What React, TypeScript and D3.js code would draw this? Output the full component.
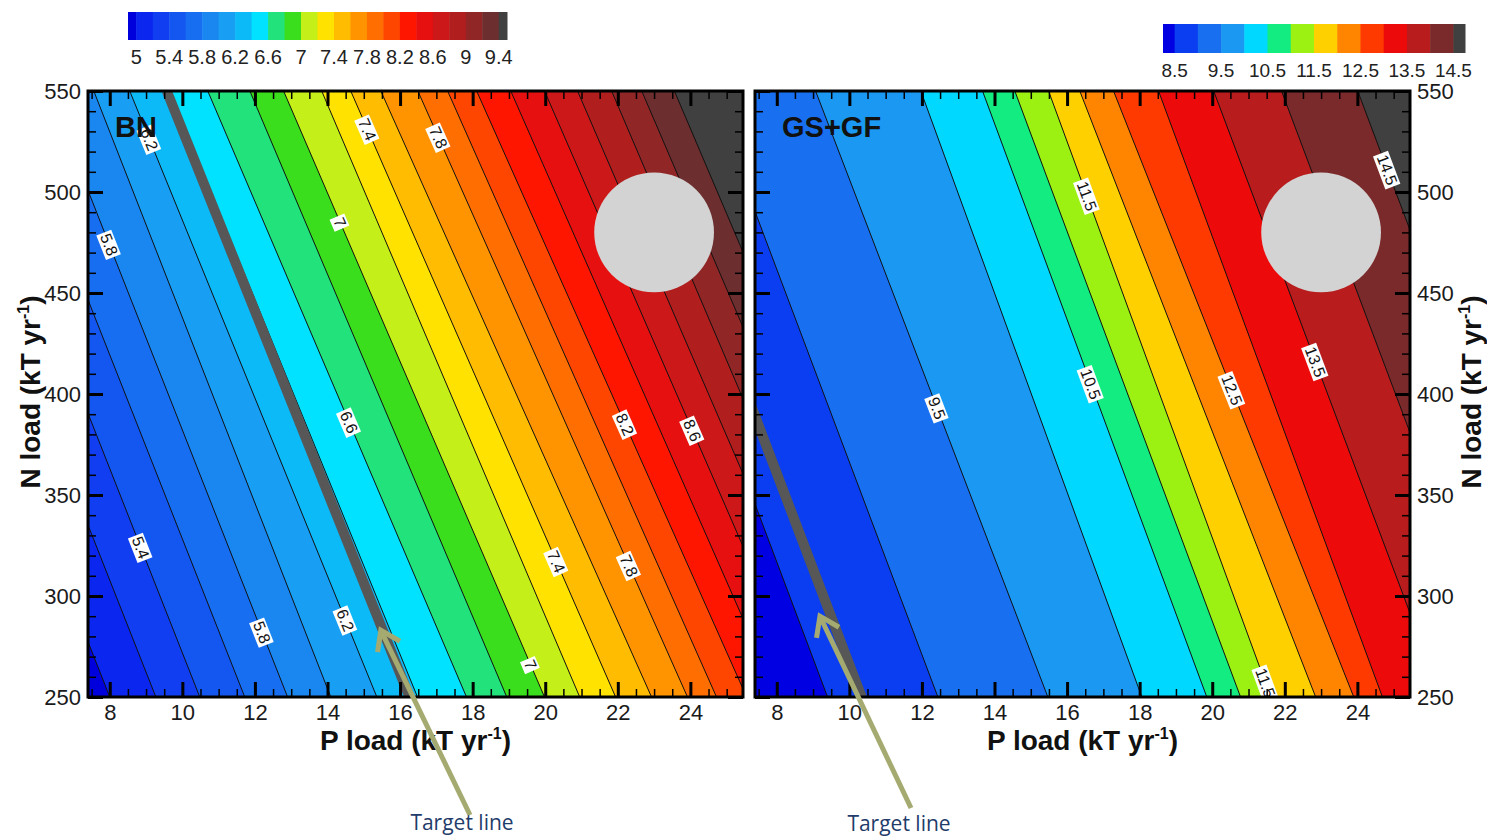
import React, { useEffect, useRef } from 'react'
import * as d3 from 'd3'

const W = 1487
const H = 838
const FONT = '"Liberation Sans", Arial, Helvetica, sans-serif'

// shared axes
const pDomain = [7.4, 25.45]
const nDomain = [250, 550]
const pTicks = [8, 10, 12, 14, 16, 18, 20, 22, 24]
const nTicks = [250, 300, 350, 400, 450, 500, 550]

// ---- BN panel ----
const bnLevels = [5.0, 5.2, 5.4, 5.6, 5.8, 6.0, 6.2, 6.4, 6.6, 6.8, 7.0, 7.2, 7.4, 7.6, 7.8, 8.0, 8.2, 8.4, 8.6, 8.8, 9.0, 9.2, 9.4]
// P load where each contour line meets N = 250 and N = 550
const bnPAtN250 = [8.0, 9.27, 10.48, 11.72, 12.9, 14.09, 15.36, 16.48, 17.83, 18.94, 19.98, 20.95, 21.94, 22.93, 23.92, 24.72, 25.55, 26.4, 27.26, 28.11, 28.96, 29.82, 30.67]
const bnPAtN550 = [1.42, 2.68, 3.9, 5.13, 6.32, 7.56, 8.55, 9.65, 10.7, 11.86, 12.79, 13.84, 14.64, 15.47, 16.49, 17.31, 18.11, 19.05, 19.98, 20.89, 21.83, 22.66, 23.56]
const bnColors = ['#0000dc', '#0a26ef', '#103ef0', '#1456f0', '#186ef0', '#1a86f0', '#189ef2', '#0cbaf8', '#00e2ff', '#22e27c', '#3ade1c', '#c4ef18', '#ffe200', '#ffbc00', '#ff9400', '#ff6e00', '#ff4600', '#ff1600', '#e61010', '#cc1818', '#b01e1e', '#902626', '#6c2e2e', '#404040']
const bnBarLabels = [5, 5.4, 5.8, 6.2, 6.6, 7, 7.4, 7.8, 8.2, 8.6, 9, 9.4]
const bnLabelLevels = [6.2, 5.8, 7.4, 7.8, 7.0, 6.6, 8.2, 8.6, 5.4, 5.8, 6.2, 7.0, 7.4, 7.8]
const bnLabelN = [526, 474, 531, 527, 485, 386, 385, 382, 324, 282, 288, 266, 317, 315]
const bnTargetP = [16.26, 9.57] // at N = 250 and N = 550

// ---- GS+GF panel ----
const gsLevels = [8.5, 9.0, 9.5, 10.0, 10.5, 11.0, 11.5, 12.0, 12.5, 13.0, 13.5, 14.0, 14.5]
const gsPAtN250 = [9.4, 12.44, 15.47, 18.06, 19.85, 20.78, 21.61, 22.85, 23.9, 24.69, 26.32, 28.19, 30.29]
const gsPAtN550 = [3.12, 6.15, 9.07, 11.97, 13.67, 14.56, 15.49, 16.35, 17.28, 18.52, 20.04, 21.91, 24.01]
const gsColors = ['#0000e2', '#0a3ef0', '#1870f0', '#1a98f2', '#00d8ff', '#12ec80', '#9cf012', '#ffd000', '#ff8400', '#ff3a00', '#ec0a0a', '#b81c1c', '#7a2a2a', '#404040']
const gsBarLabels = [8.5, 9.5, 10.5, 11.5, 12.5, 13.5, 14.5]
const gsLabelLevels = [11.5, 14.5, 9.5, 10.5, 12.5, 13.5, 11.5]
const gsLabelN = [498, 511, 393, 405, 402, 416, 257]
const gsTargetP = [10.34, 4.0]

// grey disc drawn in both panels
const discP = 23
const discN = 480
const discR = 1.65 // radius in P units

// "Target line" call-outs
const noteTipP = [15.47, 9.19]
const noteTipN = [283, 290]

// layout
const PLOT_TOP = 91
const PLOT_BOTTOM = 697
const PLOT_W = 655

function drawPanel(svg, o) {
  const x = d3.scaleLinear().domain(pDomain).range([o.left, o.left + PLOT_W])
  const y = d3.scaleLinear().domain(nDomain).range([PLOT_BOTTOM, PLOT_TOP])
  const [n0, n1] = nDomain

  const clipId = 'clip-' + o.id
  svg.append('defs').append('clipPath').attr('id', clipId)
    .append('rect')
    .attr('x', o.left).attr('y', PLOT_TOP)
    .attr('width', PLOT_W).attr('height', PLOT_BOTTOM - PLOT_TOP)

  const field = svg.append('g').attr('clip-path', `url(#${clipId})`)

  // lowest band fills everything, then each level paints the region to its right
  field.append('rect')
    .attr('x', o.left).attr('y', PLOT_TOP)
    .attr('width', PLOT_W).attr('height', PLOT_BOTTOM - PLOT_TOP)
    .attr('fill', o.colors[0])
  const far = o.left + PLOT_W + 2000
  o.levels.forEach((lv, i) => {
    const pts = [[x(o.p250[i]), y(n0)], [x(o.p550[i]), y(n1)], [far, y(n1)], [far, y(n0)]]
    field.append('polygon')
      .attr('points', pts.map(p => p.join(',')).join(' '))
      .attr('fill', o.colors[i + 1])
  })

  // contour lines
  field.selectAll('line.contour').data(o.levels).enter().append('line')
    .attr('class', 'contour')
    .attr('x1', (d, i) => x(o.p250[i])).attr('y1', y(n0))
    .attr('x2', (d, i) => x(o.p550[i])).attr('y2', y(n1))
    .attr('stroke', '#111').attr('stroke-width', 1)

  // grey disc
  field.append('circle')
    .attr('cx', x(discP)).attr('cy', y(discN))
    .attr('r', x(discP + discR) - x(discP))
    .attr('fill', '#d3d3d3')

  // target line
  field.append('line')
    .attr('x1', x(o.target[0])).attr('y1', y(n0))
    .attr('x2', x(o.target[1])).attr('y2', y(n1))
    .attr('stroke', '#575757').attr('stroke-width', 10)

  // contour labels
  o.labelLevels.forEach((lv, k) => {
    const i = o.levels.indexOf(lv)
    const n = o.labelN[k]
    const t = (n - n0) / (n1 - n0)
    const p = o.p250[i] + (o.p550[i] - o.p250[i]) * t
    const ang = Math.atan2(y(n0) - y(n1), x(o.p250[i]) - x(o.p550[i])) * 180 / Math.PI
    const lg = field.append('g').attr('transform', `translate(${x(p)},${y(n)}) rotate(${ang})`)
    const r = lg.append('rect').attr('fill', '#fff')
    const tx = lg.append('text')
      .text(String(lv))
      .attr('text-anchor', 'middle').attr('dy', '0.36em')
      .attr('font-family', FONT).attr('font-size', 16).attr('fill', '#111')
    const bb = tx.node().getBBox()
    r.attr('x', bb.x - 2).attr('y', bb.y + 1).attr('width', bb.width + 4).attr('height', bb.height - 1)
  })

  // panel title
  svg.append('text')
    .attr('x', o.left + 27).attr('y', 137)
    .attr('font-family', FONT).attr('font-size', 29).attr('font-weight', 'bold')
    .attr('fill', '#111')
    .text(o.title)

  // frame
  svg.append('rect')
    .attr('x', o.left).attr('y', PLOT_TOP)
    .attr('width', PLOT_W).attr('height', PLOT_BOTTOM - PLOT_TOP)
    .attr('fill', 'none').attr('stroke', '#000').attr('stroke-width', 3)

  // inward ticks on all four sides
  const axisG = (gen, tx, ty, size, sw, labels) => {
    const a = svg.append('g')
      .attr('transform', `translate(${tx},${ty})`)
      .call(gen.tickSize(-size).tickPadding(7))
    a.select('.domain').remove()
    a.attr('font-family', FONT).attr('font-size', 22).attr('color', '#1a1a1a')
    a.selectAll('.tick line').attr('stroke', '#000').attr('stroke-width', sw)
    if (!labels) a.selectAll('.tick text').remove()
  }
  const minorP = d3.range(7.5, 25.45, 0.5)
  const minorN = d3.range(260, 550, 10)
  const right = o.left + PLOT_W

  axisG(d3.axisBottom(x).tickValues(pTicks), 0, PLOT_BOTTOM, 15, 3, true)
  axisG(d3.axisBottom(x).tickValues(minorP), 0, PLOT_BOTTOM, 8, 1.5, false)
  axisG(d3.axisTop(x).tickValues(pTicks), 0, PLOT_TOP, 15, 3, false)
  axisG(d3.axisTop(x).tickValues(minorP), 0, PLOT_TOP, 8, 1.5, false)
  axisG(d3.axisLeft(y).tickValues(nTicks), o.left, 0, 15, 3, o.ySide === 'left')
  axisG(d3.axisLeft(y).tickValues(minorN), o.left, 0, 8, 1.5, false)
  axisG(d3.axisRight(y).tickValues(nTicks), right, 0, 15, 3, o.ySide === 'right')
  axisG(d3.axisRight(y).tickValues(minorN), right, 0, 8, 1.5, false)

  // axis titles
  const unit = (sel) => {
    sel.append('tspan').text(sel.attr('data-lead'))
    sel.append('tspan').attr('dy', -11).attr('font-size', 16).text('-1')
    sel.append('tspan').attr('dy', 11).text(')')
  }
  svg.append('text')
    .attr('x', o.left + PLOT_W / 2).attr('y', 750)
    .attr('text-anchor', 'middle')
    .attr('font-family', FONT).attr('font-size', 28).attr('font-weight', 'bold').attr('fill', '#111')
    .attr('data-lead', 'P load (kT yr')
    .call(unit)
  const nx = o.ySide === 'left' ? 40 : 1481
  svg.append('text')
    .attr('transform', `translate(${nx},${(PLOT_TOP + PLOT_BOTTOM) / 2 - 2}) rotate(-90)`)
    .attr('text-anchor', 'middle')
    .attr('font-family', FONT).attr('font-size', 28).attr('font-weight', 'bold').attr('fill', '#111')
    .attr('data-lead', 'N load (kT yr')
    .call(unit)

  return { x, y }
}

function drawColorbar(svg, o) {
  const bounds = [o.lo].concat(o.levels, [o.hi])
  const s = d3.scaleLinear().domain([o.lo, o.hi]).range([o.x0, o.x1])
  svg.append('g').selectAll('rect').data(o.colors).enter().append('rect')
    .attr('x', (d, i) => s(bounds[i]))
    .attr('width', (d, i) => s(bounds[i + 1]) - s(bounds[i]) + 0.5)
    .attr('y', o.y0).attr('height', o.h)
    .attr('fill', d => d)
  svg.append('g').selectAll('text').data(o.labels).enter().append('text')
    .attr('x', d => s(d)).attr('y', o.y0 + o.h + o.gap)
    .attr('text-anchor', 'middle').attr('dy', '0.35em')
    .attr('font-family', FONT).attr('font-size', o.fs).attr('fill', '#222')
    .text(d => String(d))
}

function drawNote(svg, scales, tipP, tipN, tail, textPos) {
  const tip = [scales.x(tipP), scales.y(tipN)]
  const col = '#a5ab70'
  svg.append('line')
    .attr('x1', tail[0]).attr('y1', tail[1]).attr('x2', tip[0]).attr('y2', tip[1])
    .attr('stroke', col).attr('stroke-width', 5)
  const dx = tail[0] - tip[0], dy = tail[1] - tip[1]
  const len = Math.hypot(dx, dy)
  const ux = dx / len, uy = dy / len
  const arm = (a) => {
    const c = Math.cos(a), s = Math.sin(a)
    return [tip[0] + 22 * (ux * c - uy * s), tip[1] + 22 * (ux * s + uy * c)]
  }
  const a1 = arm(0.6), a2 = arm(-0.6)
  svg.append('path')
    .attr('d', `M${a1[0]},${a1[1]}L${tip[0]},${tip[1]}L${a2[0]},${a2[1]}`)
    .attr('fill', 'none').attr('stroke', col).attr('stroke-width', 5)
  svg.append('text')
    .attr('x', textPos[0]).attr('y', textPos[1])
    .attr('text-anchor', 'middle')
    .attr('font-family', '"Open Sans", "Noto Sans", sans-serif').attr('font-size', 21)
    .attr('fill', '#1f3c6a')
    .text('Target line')
}

export default function App() {
  const ref = useRef(null)

  useEffect(() => {
    const svg = d3.select(ref.current)
    svg.selectAll('*').remove()

    svg.append('rect').attr('width', W).attr('height', H).attr('fill', '#fff')

    const bn = drawPanel(svg, {
      id: 'bn', left: 88, title: 'BN', ySide: 'left',
      levels: bnLevels, p250: bnPAtN250, p550: bnPAtN550, colors: bnColors,
      labelLevels: bnLabelLevels, labelN: bnLabelN, target: bnTargetP,
    })
    const gs = drawPanel(svg, {
      id: 'gs', left: 755, title: 'GS+GF', ySide: 'right',
      levels: gsLevels, p250: gsPAtN250, p550: gsPAtN550, colors: gsColors,
      labelLevels: gsLabelLevels, labelN: gsLabelN, target: gsTargetP,
    })

    drawColorbar(svg, {
      lo: 4.9, hi: 9.5, levels: bnLevels, colors: bnColors, labels: bnBarLabels,
      x0: 128, x1: 507, y0: 12, h: 28, gap: 17, fs: 20,
    })
    drawColorbar(svg, {
      lo: 8.25, hi: 14.75, levels: gsLevels, colors: gsColors, labels: gsBarLabels,
      x0: 1163, x1: 1465, y0: 24, h: 29, gap: 17, fs: 19,
    })

    drawNote(svg, bn, noteTipP[0], noteTipN[0], [470, 815], [462, 830])
    drawNote(svg, gs, noteTipP[1], noteTipN[1], [911, 808], [899, 831])
  }, [])

  return (
    <div style={{ position: 'absolute', left: 0, top: 0 }}>
      <svg ref={ref} width={W} height={H} style={{ display: 'block' }} />
    </div>
  )
}
